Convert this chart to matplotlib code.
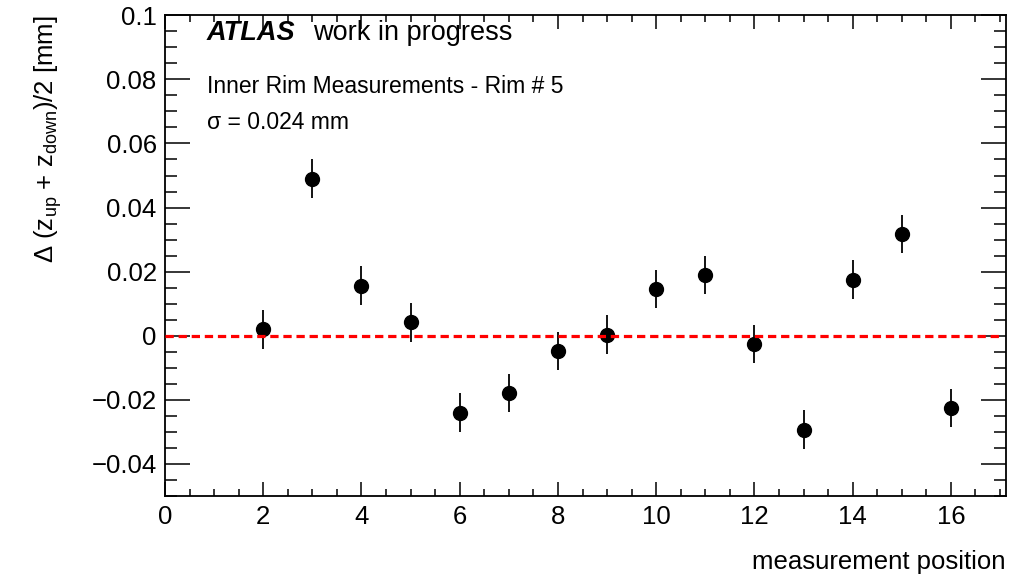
import matplotlib.pyplot as plt
from matplotlib.ticker import MultipleLocator
import numpy as np

plt.rcParams['font.family'] = ['Liberation Sans', 'DejaVu Sans']
plt.rcParams['mathtext.fontset'] = 'custom'
plt.rcParams['mathtext.rm'] = 'Liberation Sans'
plt.rcParams['mathtext.it'] = 'Liberation Sans:italic'

# rim #5 inner measurements
positions = [2, 3, 4, 5, 6, 7, 8, 9, 10, 11, 12, 13, 14, 15, 16]
delta_z = [0.0019, 0.0490, 0.0156, 0.0041, -0.0241, -0.0179, -0.0049, 0.0003,
           0.0145, 0.0190, -0.0026, -0.0294, 0.0175, 0.0317, -0.0226]
delta_err = [0.006] * len(positions)

fig = plt.figure(figsize=(10.11, 5.78), dpi=100)
ax = fig.add_axes([0.1632, 0.1427, 0.8318, 0.8305])

ax.errorbar(positions, delta_z, yerr=delta_err, fmt='o', color='black',
            markersize=10, elinewidth=1.3, capsize=0, zorder=2)
ax.plot([0, 17], [0, 0], color='red', linestyle=(0, (2.6, 1.5)), linewidth=2.3, zorder=3)

ax.set_xlim(0, 17.12)
ax.set_ylim(-0.05, 0.1)
ax.xaxis.set_major_locator(MultipleLocator(2))
ax.xaxis.set_minor_locator(MultipleLocator(0.5))
ax.yaxis.set_major_locator(MultipleLocator(0.02))
ax.yaxis.set_minor_locator(MultipleLocator(0.005))
ax.yaxis.set_major_formatter(lambda v, p: '0' if abs(v) < 1e-9 else f'{v:g}'.replace('-', '\u2212'))

ax.tick_params(which='both', direction='in', top=True, right=True, labelsize=18.5, width=1.1)
ax.tick_params(axis='x', which='major', length=10, pad=7)
ax.tick_params(axis='x', which='minor', length=5)
ax.tick_params(axis='y', which='major', length=18, pad=6)
ax.tick_params(axis='y', which='minor', length=8.3)
for s in ax.spines.values():
    s.set_linewidth(1.3)

ax.set_xlabel('measurement position', fontsize=18.5, loc='right', labelpad=15)
ax.set_ylabel(r'$\Delta$ (z$_{\rm up}$ + z$_{\rm down}$)/2 [mm]', fontsize=18.5, loc='top', labelpad=20)

ax.text(0.050, 0.948, 'ATLAS', transform=ax.transAxes, fontsize=19.5,
        fontweight='bold', fontstyle='italic', va='baseline')
ax.text(0.1755, 0.948, 'work in progress', transform=ax.transAxes, fontsize=19.5, va='baseline')
ax.text(0.050, 0.8375, 'Inner Rim Measurements - Rim # 5', transform=ax.transAxes,
        fontsize=16.5, va='baseline')
ax.text(0.050, 0.7625, '\u03c3 = 0.024 mm', transform=ax.transAxes, fontsize=16.5, va='baseline')

fig.savefig('out.png', dpi=100)
